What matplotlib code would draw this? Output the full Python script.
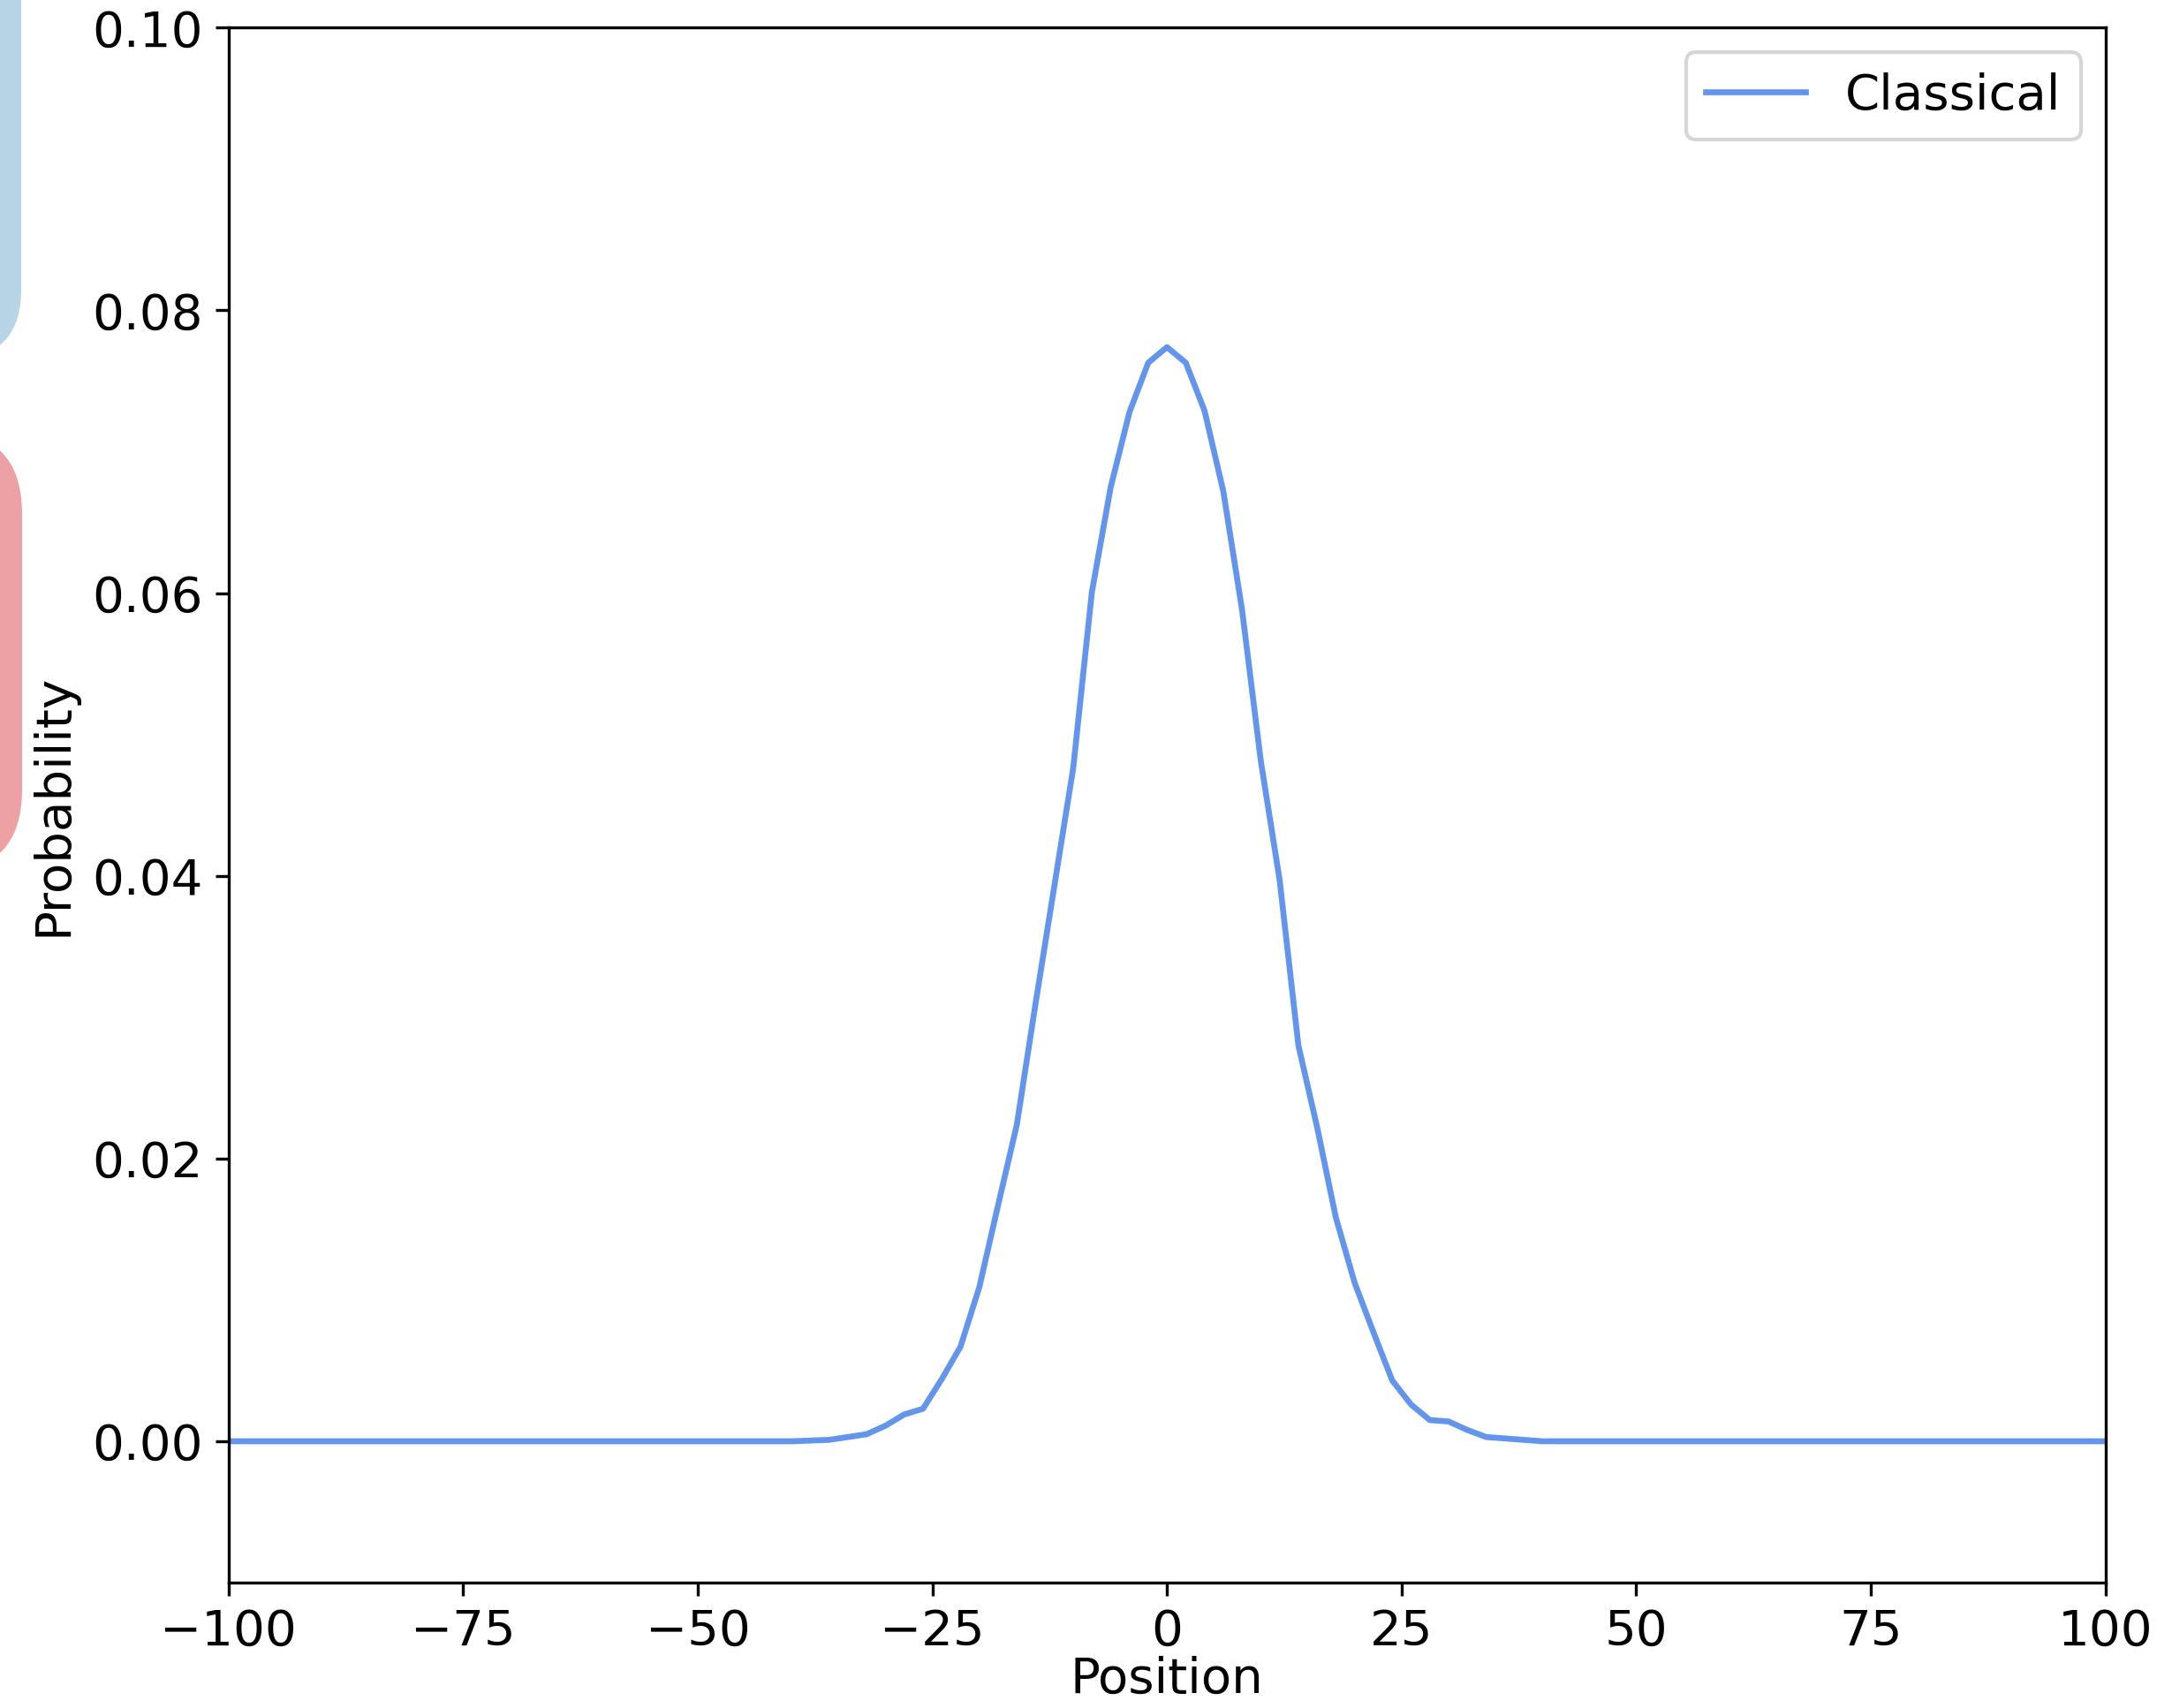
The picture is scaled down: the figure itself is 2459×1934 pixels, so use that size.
import numpy as np
import matplotlib
matplotlib.use("Agg")
import matplotlib.pyplot as plt
from matplotlib.patches import FancyBboxPatch
from matplotlib.transforms import IdentityTransform

# even positions of the walk
positions = np.arange(-100, 101, 2)

left_tail = [0.0] * 31          # -100 .. -40
centre = [0.00005, 0.0001, 0.0003, 0.0005, 0.0011, 0.0019, 0.0023, 0.0044,
          0.0067, 0.0109, 0.0167, 0.0224, 0.0310, 0.0393, 0.0476, 0.0601,
          0.0675, 0.0728, 0.0763, 0.0774, 0.0763, 0.0729, 0.0672, 0.0588,
          0.0481, 0.0397, 0.0280, 0.0222, 0.0158, 0.0112, 0.0077, 0.0043,
          0.0026, 0.0015, 0.0014, 0.0008, 0.0003, 0.0002, 0.0001]  # -38 .. 38
right_tail = [0.0] * 31         # 40 .. 100
probability = left_tail + centre + right_tail

fig = plt.figure(figsize=(2459 / 300, 1934 / 300), dpi=300)
ax = fig.add_axes([0.1052, 0.0734, 0.8642, 0.9104])

ax.plot(positions, probability, color="cornflowerblue", lw=1.6, label="Classical")
ax.set_xlim(-100, 100)
ax.set_ylim(-0.01, 0.1)
ax.set_xlabel("Position", fontsize=13.5, labelpad=0)
ax.set_ylabel("Probability", fontsize=13.5)
ax.tick_params(labelsize=13.5)
ax.legend(loc="upper right", fontsize=13.5)

# rounded boxes sticking in from the left edge
blue = FancyBboxPatch((-300, 1528), 324, 700, boxstyle="round,pad=0,rounding_size=78",
                      transform=IdentityTransform(), fc="#b6d4e6", ec="none")
red = FancyBboxPatch((-300, 946), 325, 500, boxstyle="round,pad=0,rounding_size=94",
                     transform=IdentityTransform(), fc="#eea1a5", ec="none")
fig.add_artist(blue)
fig.add_artist(red)

fig.savefig("out.png", dpi=300)
